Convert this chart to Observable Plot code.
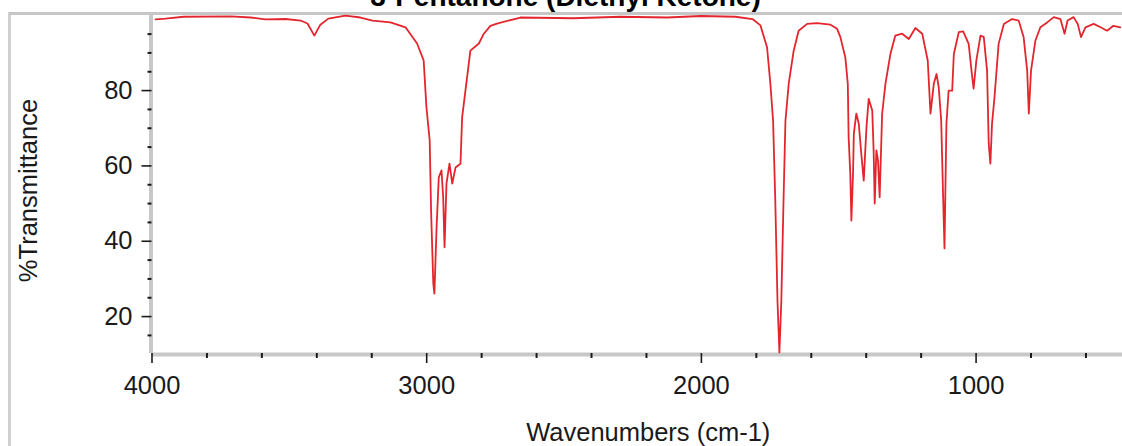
<!DOCTYPE html>
<html>
<head>
<meta charset="utf-8">
<script src="https://cdn.jsdelivr.net/npm/d3@7"></script>
<script src="https://cdn.jsdelivr.net/npm/@observablehq/plot@0.6"></script>
<style>
html, body { margin: 0; padding: 0; background: #fff; overflow: hidden; }
#wrap { position: relative; width: 1122px; height: 446px; overflow: hidden; background: #fff; }
#frame { position: absolute; left: 8px; top: 12px; width: 1200px; height: 500px; border-left: 3px solid #cfcfcf; border-top: 3px solid #c6c6c6; box-sizing: border-box; }
#chart { position: absolute; left: 0; top: 0; }
#title { position: absolute; left: 0; top: -19px; width: 1131px; line-height: 32px; text-align: center; font: bold 28px "Liberation Sans", Arial, sans-serif; color: #000; white-space: nowrap; }
</style>
</head>
<body>
<div id="wrap">
  <div id="frame"></div>
  <div id="chart"></div>
  <div id="title">3-Pentanone (Diethyl Ketone)</div>
</div>
<script>
// Spectrum
const wavenumbers = [
  3987, 3951, 3885, 3714, 3641, 3587, 3514, 3459, 3434, 3409, 3387, 3358, 3296, 3241, 3197, 3132,
  3077, 3035, 3011, 3001, 2989, 2984, 2976, 2972, 2964, 2956, 2946, 2940, 2935, 2928, 2917, 2907,
  2895, 2877, 2871, 2853, 2841, 2810, 2792, 2768, 2744, 2659, 2466, 2295, 2124, 2003, 1876, 1814,
  1785, 1761, 1749, 1739, 1731, 1723, 1716, 1709, 1701, 1694, 1682, 1664, 1646, 1615, 1579, 1530,
  1506, 1494, 1476, 1467, 1464, 1458, 1454, 1448, 1445, 1436, 1427, 1418, 1409, 1399, 1391, 1378,
  1373, 1369, 1363, 1357, 1351, 1342, 1330, 1312, 1294, 1269, 1245, 1221, 1196, 1176, 1166, 1154,
  1144, 1136, 1127, 1120, 1115, 1108, 1100, 1087, 1081, 1063, 1047, 1027, 1014, 1009, 999, 984,
  972, 960, 954, 948, 942, 933, 918, 899, 869, 845, 827, 814, 808, 800, 784, 766,
  741, 717, 693, 678, 667, 645, 630, 618, 602, 572, 547, 523, 500, 475
];
const transmittance = [
  98.9, 99.1, 99.6, 99.7, 99.4, 98.9, 99.0, 98.6, 97.8, 94.6, 97.5, 99.1, 99.9, 99.4, 98.6, 98.1,
  96.8, 92.5, 88.0, 75.6, 66.7, 48.1, 28.8, 26.1, 43.7, 57.0, 58.8, 51.7, 38.4, 55.3, 60.6, 55.3,
  59.6, 60.6, 72.9, 83.5, 90.6, 92.5, 95.1, 97.2, 97.8, 99.4, 99.2, 99.6, 99.4, 99.8, 99.6, 99.0,
  97.3, 91.5, 81.9, 72.0, 50.8, 24.2, 10.5, 24.2, 50.8, 72.0, 81.9, 90.6, 95.9, 97.7, 97.9, 97.5,
  96.4, 94.2, 88.8, 81.8, 67.6, 58.0, 45.5, 58.0, 68.6, 73.9, 71.2, 63.3, 56.1, 70.3, 77.8, 74.7,
  64.1, 50.0, 64.1, 61.4, 51.7, 73.9, 81.8, 89.7, 94.6, 95.1, 93.7, 96.6, 95.1, 88.0, 73.9, 81.8,
  84.4, 80.9, 72.0, 51.7, 38.1, 71.2, 80.0, 80.0, 89.7, 95.5, 95.7, 92.4, 83.5, 80.5, 88.0, 94.6,
  94.2, 85.3, 65.9, 60.6, 71.2, 78.2, 92.4, 97.7, 99.0, 98.6, 94.2, 85.3, 73.9, 85.3, 93.3, 96.8,
  98.1, 99.5, 99.0, 95.1, 98.6, 99.5, 97.7, 94.2, 96.8, 97.7, 96.8, 95.9, 97.2, 96.8
];

const xDomain = [4000, 467];
const yDomain = [10.2, 100.2];
const xMajorTicks = [4000, 3000, 2000, 1000];
const xMinorTicks = [3800, 3600, 3400, 3200, 2800, 2600, 2400, 2200, 1800, 1600, 1400, 1200, 800, 600];
const yMajorTicks = [20, 40, 60, 80];
const yMinorTicks = [15, 25, 30, 35, 45, 50, 55, 65, 70, 75, 85, 90, 95];
const xLabel = "Wavenumbers (cm-1)";
const yLabel = "%Transmittance";

const data = wavenumbers.map((w, i) => ({w, t: transmittance[i]}));
const ink = "#1a1a1a";
const font = '"Liberation Sans", Arial, sans-serif';

const chart = Plot.plot({
  width: 1122,
  height: 446,
  marginLeft: 151.5,
  marginRight: 0,
  marginTop: 14,
  marginBottom: 93,
  style: {fontFamily: font, fontSize: "25.5px", color: ink, background: "transparent", overflow: "visible"},
  x: {domain: xDomain},
  y: {domain: yDomain},
  marks: [
    Plot.ruleX([xDomain[0]], {stroke: "#c8c8c8", strokeWidth: 4, dx: -1}),
    Plot.ruleY([yDomain[0]], {stroke: "#c8c8c8", strokeWidth: 4, dy: 1}),
    Plot.axisX(xMinorTicks, {anchor: "bottom", tickSize: 5, tickFormat: () => "", label: null, stroke: ink, strokeWidth: 2}),
    Plot.axisX(xMajorTicks, {anchor: "bottom", tickSize: 10, tickPadding: 12, tickFormat: d => String(d), label: null, stroke: ink, strokeWidth: 1.6, fill: ink}),
    Plot.axisY(yMinorTicks, {anchor: "left", tickSize: 4, tickFormat: () => "", label: null, stroke: ink, strokeWidth: 2}),
    Plot.axisY(yMajorTicks, {anchor: "left", tickSize: 10, tickPadding: 9.5, tickFormat: d => String(d), label: null, stroke: ink, strokeWidth: 1.6, fill: ink}),
    Plot.line(data, {x: "w", y: "t", stroke: "#e3262d", strokeWidth: 1.8}),
    Plot.text([xLabel], {frameAnchor: "bottom", textAnchor: "middle", lineAnchor: "middle", dx: 11, dy: 79, fill: ink, fontSize: 25.5}),
    Plot.text([yLabel], {frameAnchor: "left", textAnchor: "middle", lineAnchor: "middle", rotate: -90, dx: -123.5, dy: 6.5, fill: ink, fontSize: 25.5})
  ]
});
document.getElementById("chart").appendChild(chart);
</script>
</body>
</html>
